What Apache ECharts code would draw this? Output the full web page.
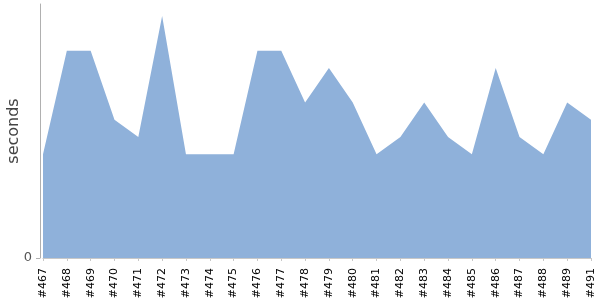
<!DOCTYPE html>
<html><head><meta charset="utf-8">
<script src="https://cdn.jsdelivr.net/npm/echarts@6/dist/echarts.min.js"></script>
<style>html,body{margin:0;padding:0;background:#fff}#c{width:600px;height:300px}</style>
</head><body><div id="c"></div>
<script>
const builds = ['#467','#468','#469','#470','#471','#472','#473','#474','#475','#476','#477','#478','#479','#480','#481','#482','#483','#484','#485','#486','#487','#488','#489','#491'];
const seconds = [6,12,12,8,7,14,6,6,6,12,12,9,11,9,6,7,9,7,6,11,7,6,9,8];
const yTicks = [0];
const chart = echarts.init(document.getElementById('c'), null, {renderer:'canvas'});
chart.setOption({
  animation:false,
  grid:{left:43,right:9,top:4,bottom:42,containLabel:false,outerBoundsMode:'none'},
  xAxis:{type:'category',data:builds,boundaryGap:false,offset:5,
    axisLine:{lineStyle:{color:'#c8c8c8',width:1}},
    axisTick:{show:true,alignWithLabel:true,length:3,lineStyle:{color:'#c8c8c8'}},
    axisLabel:{rotate:90,interval:0,color:'#000',fontSize:11,fontFamily:'DejaVu Sans',margin:5}},
  yAxis:{type:'value',min:0,max:14.7,offset:3,name:'seconds',nameLocation:'middle',nameGap:18,
    nameMoveOverlap:false,
    nameTextStyle:{fontSize:16,color:'#444',fontFamily:'DejaVu Sans'},
    axisLine:{show:true,lineStyle:{color:'#b0b0b0'}},
    axisTick:{show:true,length:4,customValues:yTicks,lineStyle:{color:'#b0b0b0'}},
    axisLabel:{customValues:yTicks,color:'#555',fontSize:13,fontFamily:'DejaVu Sans',margin:8},
    splitLine:{show:false}},
  series:[{type:'line',data:seconds,symbol:'none',lineStyle:{width:0},
    areaStyle:{color:'#8fb1da',opacity:1}}]
});
</script></body></html>
